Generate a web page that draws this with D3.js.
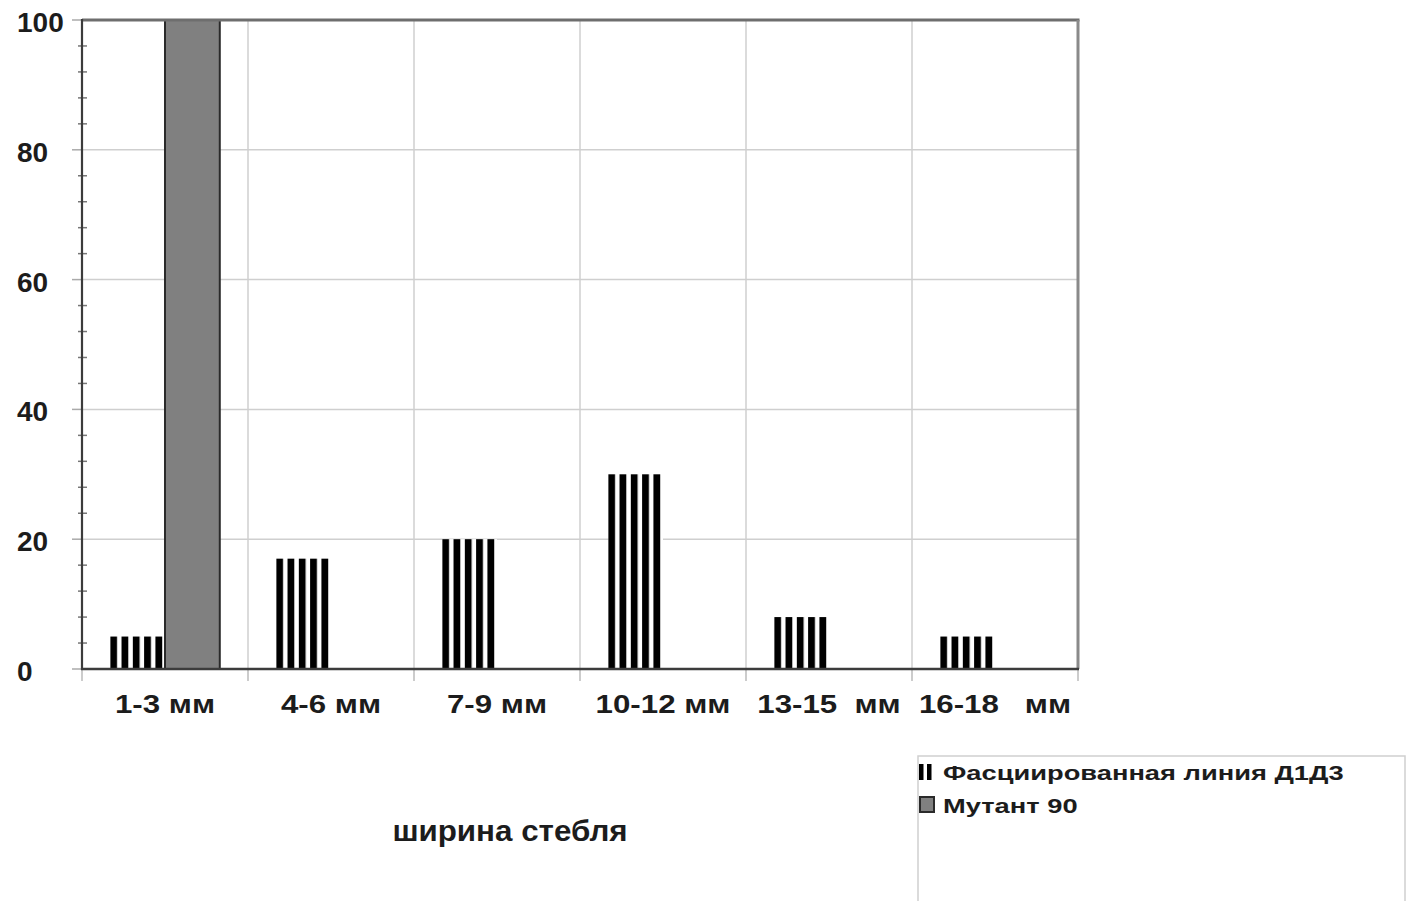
<!DOCTYPE html>
<html>
<head>
<meta charset="utf-8">
<script src="https://cdn.jsdelivr.net/npm/d3@7"></script>
<style>
  body { margin: 0; background: #fff; }
  svg { display: block; }
  text { font-family: "Liberation Sans", Arial, sans-serif; fill: #1c1c1c; }
</style>
</head>
<body>
<svg id="chart" width="1410" height="901"></svg>
<script>
// Stem width classes and the share of plants (%) in each class
const categories = ["1-3 мм", "4-6 мм", "7-9 мм", "10-12 мм", "13-15  мм", "16-18   мм"];
const seriesNames = ["Фасциированная линия Д1Д3", "Мутант 90"];
const fasciatedValues = [5, 17, 20, 30, 8, 5];
const mutantValues = [100, 0, 0, 0, 0, 0];
const yTicks = [0, 20, 40, 60, 80, 100];
const yMinorTicks = d3.range(0, 101, 4);
const axisTitle = "ширина стебля";

const svg = d3.select("#chart");
const plot = { left: 82, right: 1078, top: 20, bottom: 669 };

const x = d3.scaleBand().domain(categories).range([plot.left, plot.right]).padding(0);
const xSub = d3.scaleBand().domain(seriesNames)
  .range([x.bandwidth() * 0.17, x.bandwidth() * 0.83]).padding(0);
const y = d3.scaleLinear().domain([0, 100]).range([plot.bottom, plot.top]);

const defs = svg.append("defs");

// Horizontal grid lines
svg.append("g").selectAll("line").data(yTicks.filter(t => t > 0 && t < 100)).join("line")
  .attr("x1", plot.left).attr("x2", plot.right)
  .attr("y1", d => y(d)).attr("y2", d => y(d))
  .attr("stroke", "#cfcfcf").attr("stroke-width", 1.5);

// Vertical grid lines at class boundaries
const boundaries = categories.slice(1).map(c => x(c));
svg.append("g").selectAll("line").data(boundaries).join("line")
  .attr("x1", d => d).attr("x2", d => d)
  .attr("y1", plot.top).attr("y2", plot.bottom)
  .attr("stroke", "#cfcfcf").attr("stroke-width", 1.5);

// Striped bars (fasciated line)
const fasc = categories.map((c, i) => ({ c, v: fasciatedValues[i], i }));
fasc.forEach(d => {
  const bx = x(d.c) + xSub(seriesNames[0]);
  const p = defs.append("pattern")
    .attr("id", "stripes-" + d.i)
    .attr("patternUnits", "userSpaceOnUse")
    .attr("x", bx).attr("y", 0)
    .attr("width", 11.3).attr("height", 10);
  p.append("rect").attr("width", 11.3).attr("height", 10).attr("fill", "#fff");
  p.append("rect").attr("width", 6.8).attr("height", 10).attr("fill", "#000");
});
svg.append("g").selectAll("rect").data(fasc).join("rect")
  .attr("x", d => x(d.c) + xSub(seriesNames[0]))
  .attr("y", d => y(d.v))
  .attr("width", xSub.bandwidth())
  .attr("height", d => y(0) - y(d.v))
  .attr("fill", d => `url(#stripes-${d.i})`);

// Solid grey bars (mutant)
const mut = categories.map((c, i) => ({ c, v: mutantValues[i] })).filter(d => d.v > 0);
svg.append("g").selectAll("rect").data(mut).join("rect")
  .attr("x", d => x(d.c) + xSub(seriesNames[1]))
  .attr("y", d => y(d.v))
  .attr("width", xSub.bandwidth())
  .attr("height", d => y(0) - y(d.v))
  .attr("fill", "#808080")
  .attr("stroke", "#2a2a2a").attr("stroke-width", 2);

// Plot frame: top and right edges
svg.append("line").attr("x1", plot.left).attr("x2", plot.right + 1.5)
  .attr("y1", plot.top).attr("y2", plot.top)
  .attr("stroke", "#6e6e6e").attr("stroke-width", 3);
svg.append("line").attr("x1", plot.right).attr("x2", plot.right)
  .attr("y1", plot.top).attr("y2", plot.bottom)
  .attr("stroke", "#8a8a8a").attr("stroke-width", 3);

// Y axis: minor ticks, major ticks, line, labels
svg.append("g").selectAll("line").data(yMinorTicks.filter(t => t % 20 !== 0)).join("line")
  .attr("x1", plot.left - 4).attr("x2", plot.left + 5)
  .attr("y1", d => y(d)).attr("y2", d => y(d))
  .attr("stroke", "#777").attr("stroke-width", 1.5);
svg.append("g").selectAll("line").data(yTicks).join("line")
  .attr("x1", plot.left - 10).attr("x2", plot.left)
  .attr("y1", d => y(d)).attr("y2", d => y(d))
  .attr("stroke", "#aaa").attr("stroke-width", 1.5);
svg.append("line").attr("x1", plot.left).attr("x2", plot.left)
  .attr("y1", plot.top - 1).attr("y2", plot.bottom + 1)
  .attr("stroke", "#3c3c3c").attr("stroke-width", 2.2);
svg.append("g").selectAll("text").data(yTicks).join("text")
  .attr("x", 17).attr("y", d => y(d) + 12)
  .attr("font-size", 28).attr("font-weight", "bold")
  .text(d => d);

// X axis: ticks at class boundaries, line, labels (wide lettering)
const xTickPos = categories.map(c => x(c)).concat([plot.right]);
svg.append("g").selectAll("line").data(xTickPos).join("line")
  .attr("x1", d => d).attr("x2", d => d)
  .attr("y1", plot.bottom).attr("y2", plot.bottom + 12)
  .attr("stroke", "#bbb").attr("stroke-width", 1.5);
svg.append("line").attr("x1", plot.left - 1).attr("x2", plot.right + 1)
  .attr("y1", plot.bottom).attr("y2", plot.bottom)
  .attr("stroke", "#3c3c3c").attr("stroke-width", 2.5);
svg.append("g").selectAll("text").data(categories).join("text")
  .attr("transform", d => `translate(${x(d) + x.bandwidth() / 2},713) scale(1.25,1)`)
  .attr("text-anchor", "middle")
  .attr("font-size", 25).attr("font-weight", "bold")
  .style("white-space", "pre")
  .text(d => d);

// Axis title
svg.append("text")
  .attr("transform", "translate(510,841) scale(1.08,1)")
  .attr("text-anchor", "middle")
  .attr("font-size", 29).attr("font-weight", "bold")
  .attr("fill", "#2a2a2a")
  .text(axisTitle);

// Legend
const legend = svg.append("g");
legend.append("rect")
  .attr("x", 918).attr("y", 756).attr("width", 487).attr("height", 160)
  .attr("fill", "#fff").attr("stroke", "#cfcfcf").attr("stroke-width", 1.5);
const legendRows = [780, 813];
// striped swatch
legend.append("rect").attr("x", 919).attr("y", legendRows[0] - 16).attr("width", 4.5).attr("height", 16).attr("fill", "#000");
legend.append("rect").attr("x", 927).attr("y", legendRows[0] - 16).attr("width", 4.5).attr("height", 16).attr("fill", "#000");
// solid swatch
legend.append("rect").attr("x", 920).attr("y", legendRows[1] - 16).attr("width", 14).attr("height", 15)
  .attr("fill", "#808080").attr("stroke", "#2a2a2a").attr("stroke-width", 2);
legend.selectAll("text.lbl").data(seriesNames).join("text")
  .attr("class", "lbl")
  .attr("transform", (d, i) => `translate(943,${legendRows[i]}) scale(1.3,1)`)
  .attr("font-size", 21).attr("font-weight", "bold")
  .text(d => d);
</script>
</body>
</html>
